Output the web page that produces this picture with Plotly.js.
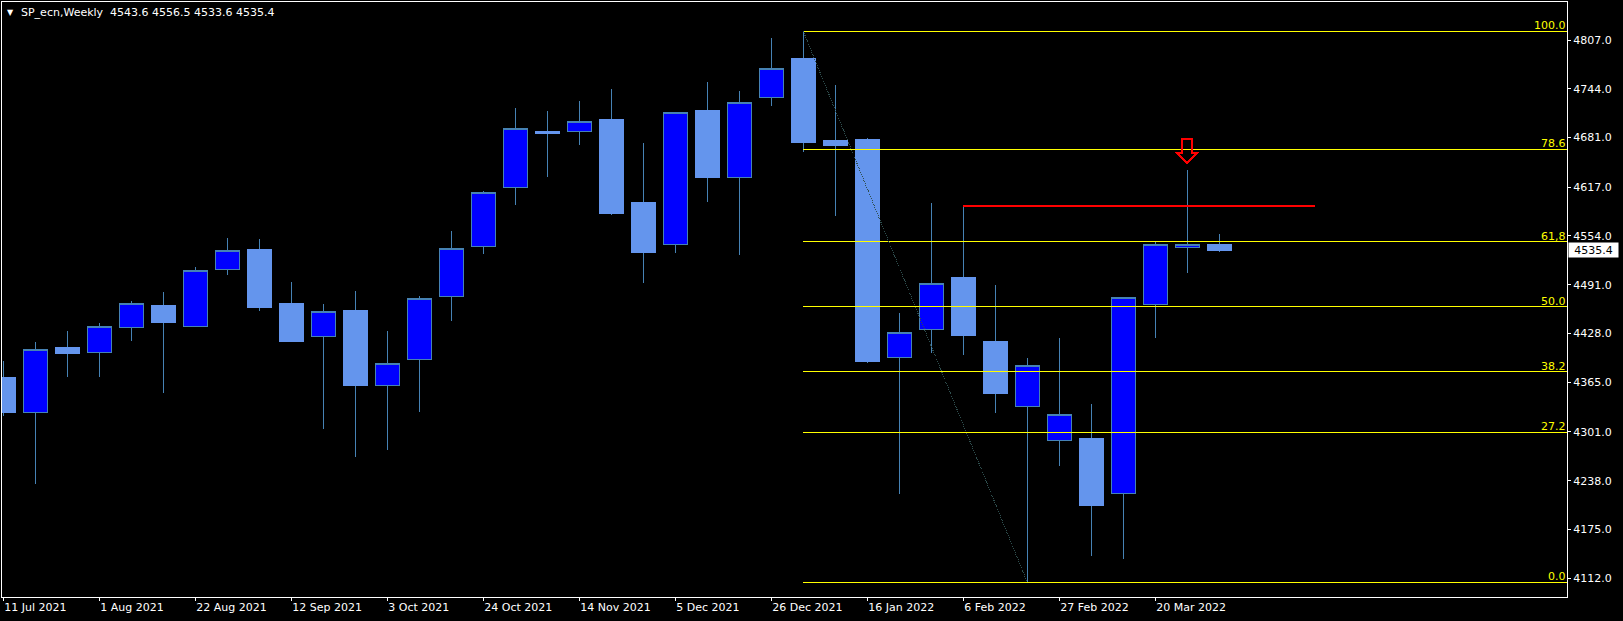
<!DOCTYPE html>
<html><head><meta charset="utf-8">
<script src="https://cdn.plot.ly/plotly-3.0.1.min.js"></script>
<style>html,body{margin:0;padding:0;background:#000;overflow:hidden}#chart{width:1623px;height:621px}
#chart path{shape-rendering:crispEdges}</style>
</head><body><div id="chart"></div><script>
// ---- data (weekly candles, SP_ecn) ----
const weeks = ['2021-07-11','2021-07-18','2021-07-25','2021-08-01','2021-08-08','2021-08-15','2021-08-22','2021-08-29',
  '2021-09-05','2021-09-12','2021-09-19','2021-09-26','2021-10-03','2021-10-10','2021-10-17','2021-10-24','2021-10-31',
  '2021-11-07','2021-11-14','2021-11-21','2021-11-28','2021-12-05','2021-12-12','2021-12-19','2021-12-26','2022-01-02',
  '2022-01-09','2022-01-16','2022-01-23','2022-01-30','2022-02-06','2022-02-13','2022-02-20','2022-02-27','2022-03-06',
  '2022-03-13','2022-03-20','2022-03-27','2022-04-03'];
const openP  = [4371.9,4326.3,4410.6,4403.8,4436.1,4464.5,4437.4,4511.0,4537.2,4466.2,4424.4,4458.4,4360.7,4394.7,4476.1,4540.6,4616.8,4689.5,4689.1,4705.0,4597.8,4543.2,4716.6,4629.7,4733.0,4783.8,4677.9,4679.2,4397.3,4433.5,4501.0,4418.4,4333.6,4290.2,4291.9,4221.7,4465.8,4539.4,4543.6];
const highP  = [4392.6,4416.7,4431.3,4441.2,4470.0,4481.6,4513.5,4551.0,4550.1,4494.6,4466.2,4482.9,4431.3,4476.5,4560.4,4611.7,4719.2,4715.3,4728.2,4743.7,4674.0,4714.5,4752.8,4741.2,4809.6,4818.2,4748.9,4680.0,4454.5,4596.6,4592.7,4490.7,4396.4,4422.3,4337.0,4475.5,4547.5,4639.2,4556.5];
const lowP   = [4322.0,4233.2,4372.3,4372.3,4418.8,4351.6,4436.5,4504.0,4457.5,4417.1,4305.2,4269.0,4278.0,4327.1,4444.6,4531.1,4594.4,4630.5,4671.4,4581.4,4493.6,4532.4,4598.2,4529.8,4722.2,4662.8,4579.8,4390.4,4221.2,4403.3,4400.3,4325.8,4106.8,4257.4,4141.2,4137.3,4422.6,4506.6,4533.6];
const closeP = [4325.8,4407.7,4402.0,4437.4,4467.0,4442.0,4509.7,4535.5,4462.3,4418.4,4456.7,4360.7,4389.6,4473.5,4538.1,4610.4,4693.0,4686.0,4702.0,4582.7,4532.4,4713.7,4629.2,4726.6,4770.5,4675.3,4671.4,4392.6,4429.6,4492.9,4425.2,4350.3,4387.0,4323.7,4205.7,4474.8,4543.2,4543.2,4535.4];

const xTickVals = weeks.filter((d, i) => i % 3 === 0 && i <= 36);
const yTickVals = [4807,4744,4681,4617,4554,4491,4428,4365,4301,4238,4175,4112];
const yTickText = yTickVals.map(v => v.toFixed(1));
const fibRatios = [0, 0.272, 0.382, 0.5, 0.618, 0.786, 1];
const fibLabels = ['0.0', '27.2', '38.2', '50.0', '61,8', '78.6', '100.0'];
const fibHighIdx = 25, fibLowIdx = 32;     // swing high / swing low candles
const resistIdx = 30;                        // red horizontal line from this candle's high
const resistEnd = '2022-04-24';
const arrowIdx = 37;                         // red down arrow above this candle
const symbolName = 'SP_ecn,Weekly';

// ---- derived ----
const DAY = 86400000, WEEK = 7 * DAY;
const t0 = Date.parse(weeks[0] + 'T00:00:00Z');
const fmt = ms => new Date(ms).toISOString().replace('T', ' ').replace('Z', '');
const xRange = [fmt(t0 - 0.0406 * WEEK), fmt(t0 + 48.866 * WEEK)];
const yRange = [4087.9, 4856.1];
const last = weeks.length - 1;
const fibHigh = highP[fibHighIdx], fibLow = lowP[fibLowIdx];

const steel = '#4682B4', corn = '#6495ED';
const mainTrace = {
  type: 'candlestick', x: weeks, open: openP, high: highP, low: lowP, close: closeP,
  increasing: {line: {color: steel, width: 1}, fillcolor: '#0000FF'},
  decreasing: {line: {color: steel, width: 1}, fillcolor: corn},
  hoverinfo: 'skip'
};
// bearish bodies repainted without a visible outline
const bx = [], bo = [], bc = [];
for (let i = 0; i < weeks.length; i++) if (closeP[i] < openP[i]) { bx.push(weeks[i]); bo.push(openP[i]); bc.push(closeP[i]); }
const bearBodies = {
  type: 'candlestick', x: bx, open: bo, high: bo, low: bc, close: bc,
  increasing: {line: {color: corn, width: 1}, fillcolor: corn},
  decreasing: {line: {color: corn, width: 1}, fillcolor: corn},
  hoverinfo: 'skip'
};

const shapes = [];
const annotations = [];
fibRatios.forEach((r, k) => {
  const lv = fibLow + r * (fibHigh - fibLow);
  shapes.push({type: 'line', xref: 'x', yref: 'y', x0: weeks[fibHighIdx], x1: xRange[1], y0: lv, y1: lv,
    line: {color: '#FFFF00', width: 1}});
  annotations.push({xref: 'paper', yref: 'y', x: 1, y: lv, xanchor: 'right', yanchor: 'bottom', yshift: -2,
    text: fibLabels[k], showarrow: false, font: {family: 'DejaVu Sans', size: 11, color: '#FFFF00'}, borderpad: 0});
});
// diagonal fibo base line
shapes.push({type: 'line', xref: 'x', yref: 'y', x0: weeks[fibHighIdx], y0: fibHigh, x1: weeks[fibLowIdx], y1: fibLow,
  line: {color: '#2F4F4F', width: 1, dash: '1px,1px'}});
// red resistance line
shapes.push({type: 'line', xref: 'x', yref: 'y', x0: weeks[resistIdx], x1: resistEnd, y0: highP[resistIdx], y1: highP[resistIdx],
  line: {color: '#FF0000', width: 2}});
// red hollow down arrow
shapes.push({type: 'path', xref: 'x', yref: 'y', xsizemode: 'pixel', ysizemode: 'pixel',
  xanchor: weeks[arrowIdx], yanchor: highP[arrowIdx],
  path: 'M0,7L-10,17L-5,17L-5,31L5,31L5,17L10,17Z', line: {color: '#FF0000', width: 2}, fillcolor: 'rgba(0,0,0,0)'});

// header
const hdr = symbolName + '\u00A0 ' + [openP[last], highP[last], lowP[last], closeP[last]].map(v => v.toFixed(1)).join(' ');
annotations.push({xref: 'paper', yref: 'paper', x: 17 / 1565, y: 1 - 10.7 / 595, xanchor: 'left', yanchor: 'middle',
  text: hdr, showarrow: false, font: {family: 'DejaVu Sans', size: 11, color: '#FFFFFF'}});
annotations.push({xref: 'paper', yref: 'paper', x: 8 / 1565, y: 1 - 10.7 / 595, xanchor: 'center', yanchor: 'middle',
  text: '\u25BC', showarrow: false, font: {family: 'DejaVu Sans', size: 8, color: '#FFFFFF'}});
// current price tag
annotations.push({xref: 'paper', yref: 'y', x: 1, xanchor: 'left', xshift: 1, y: closeP[last], yanchor: 'middle',
  text: closeP[last].toFixed(1), showarrow: false, bgcolor: '#FFFFFF', borderpad: 1, width: 47, height: 12, align: 'center',
  font: {family: 'DejaVu Sans', size: 11, color: '#000000'}});

const layout = {
  width: 1623, height: 621,
  paper_bgcolor: '#000000', plot_bgcolor: '#000000',
  margin: {l: 2, r: 56, t: 2, b: 24},
  showlegend: false, hovermode: false,
  boxgap: 0.25, boxgroupgap: 0,
  font: {family: 'DejaVu Sans', size: 11, color: '#FFFFFF'},
  xaxis: {type: 'date', range: xRange, showgrid: false, zeroline: false, showline: true, linecolor: '#FFFFFF', linewidth: 1,
    mirror: true, ticks: 'outside', ticklen: 3, tickcolor: '#FFFFFF', tickmode: 'array', tickvals: xTickVals,
    tickformat: '%-d %b %Y', ticklabelposition: 'outside right', rangeslider: {visible: false},
    tickfont: {family: 'DejaVu Sans', size: 11, color: '#FFFFFF'}},
  yaxis: {side: 'right', range: yRange, tickmode: 'array', tickvals: yTickVals, ticktext: yTickText,
    showgrid: false, zeroline: false, showline: true, mirror: true, linecolor: '#FFFFFF', linewidth: 1,
    ticks: 'outside', ticklen: 3, tickcolor: '#FFFFFF', tickfont: {family: 'DejaVu Sans', size: 11, color: '#FFFFFF'}},
  shapes: shapes, annotations: annotations
};
Plotly.newPlot('chart', [mainTrace, bearBodies], layout, {staticPlot: true, displayModeBar: false});
</script></body></html>
